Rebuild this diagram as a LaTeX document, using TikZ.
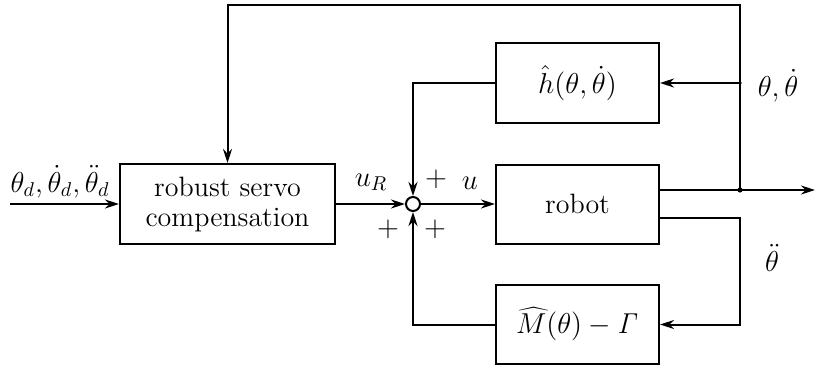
\documentclass[tikz,border=0pt]{standalone}
\usetikzlibrary{arrows.meta}
\begin{document}
\begin{tikzpicture}[x=0.5pt,y=-0.5pt,
  every node/.style={font=\fontsize{14}{16}\selectfont},
  blk/.style={draw,line width=1pt,minimum width=81.5pt,minimum height=39.5pt,inner sep=0pt,align=center},
  conn/.style={line width=1pt},
  arr/.style={conn,-{Stealth[length=7pt,width=4.5pt]}},
  lbl/.style={inner sep=1pt}]
\useasboundingbox (0,0) rectangle (818,369);
\node[blk,minimum width=107.5pt,minimum height=40pt] (rob) at (227.5,204) {robust servo\\[-1pt]compensation};
\node[draw,circle,line width=1pt,minimum size=7pt,inner sep=0pt] (sum) at (413,204) {};
\node[blk] (h) at (577.5,83) {$\hat h(\theta,\dot\theta)$};
\node[blk] (robot) at (577.5,204) {robot};
\node[blk] (M) at (577.5,324.5) {$\widehat M(\theta)-\mathit{\Gamma}$};
\coordinate (in) at (10,204);
\coordinate (J) at (740,190);
\coordinate (K) at (740,83);
\coordinate (T) at (740,5);
\coordinate (out) at (815,190);
\coordinate (r1) at (659,190);
\coordinate (r2) at (659,218);
\coordinate (c2) at (740,218);
\draw[arr] (in) -- (rob.west);
\draw[arr] (rob.east) -- (sum.west);
\draw[arr] (sum.east) -- (robot.west);
\draw[arr] (r1) -- (out);
\draw[arr] (J) -- (T) -| (rob.north);
\draw[arr] (K) -- (h.east);
\draw[arr] (h.west) -| (sum.north);
\draw[arr] (r2) -- (c2) |- (M.east);
\draw[arr] (M.west) -| (sum.south);
\fill (J) circle (1.3pt);
\fill (K) circle (0.9pt);
\node[lbl] (l1) at (60,182) {$\theta_d,\dot\theta_d,\ddot\theta_d$};
\node[lbl] (l2) at (371,182) {$u_R$};
\node[lbl] (l3) at (436,179) {$+$};
\node[lbl] (l4) at (470,183) {$u$};
\node[lbl] (l5) at (388,229) {$+$};
\node[lbl] (l6) at (435,229) {$+$};
\node[lbl] (l7) at (778,86) {$\theta,\dot\theta$};
\node[lbl] (l8) at (772,258) {$\ddot\theta$};
\end{tikzpicture}
\end{document}
